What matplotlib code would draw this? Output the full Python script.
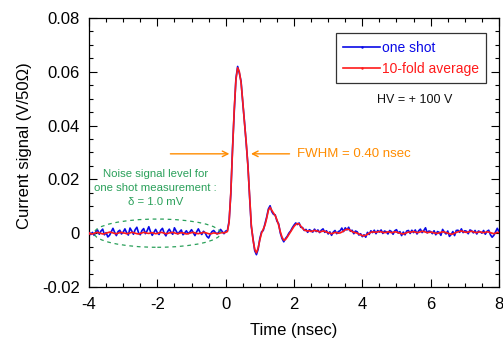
import numpy as np
import matplotlib
matplotlib.use("Agg")
import matplotlib.pyplot as plt
from matplotlib.patches import Ellipse
from matplotlib.ticker import MultipleLocator, FuncFormatter

plt.rcParams['font.family'] = ['Liberation Sans', 'DejaVu Sans']

# time grid (nsec)
time_ns = np.arange(-4.0, 8.0001, 0.05)

# 10-fold average signal (mV)
avg_mV = [
    0.0,-0.2,-0.3,-0.1,0.2,0.3,0.1,-0.1,-0.3,-0.2,0.0,0.2,0.4,0.3,0.1,-0.1,-0.2,0.0,0.2,0.3,0.1,
    0.0,-0.2,-0.1,0.1,0.3,0.2,0.0,-0.2,-0.3,-0.1,0.1,0.3,0.2,0.0,-0.1,0.1,0.2,0.0,-0.2,-0.1,
    0.1,0.3,0.2,0.0,-0.2,-0.1,0.1,0.2,0.3,0.1,-0.1,-0.2,0.0,0.2,0.1,-0.1,-0.3,-0.2,0.0,0.2,
    0.3,0.1,-0.1,-0.2,0.0,0.1,0.3,0.2,0.0,-0.2,-0.3,-0.1,0.1,0.0,-0.2,-0.1,0.1,0.2,0.1,0.3,
    0.6,4,15,31,46,57,61.5,60,56,49, 41,34,25,14,3,-2.5,-6,-7.3,-5.5,-2.5,
    0,1.5,3,5.5,8.5,9.6,8.5,7.5,6.5,5, 3,0.5,-1.5,-2.6,-2.4,-1.5,-0.5,0.5,1.5,2.5,
    3.2,3.6,3.4,2.6,1.8,1.2,0.9,0.8,0.9,0.6,
    0.8,1.0,0.9,0.7,0.5,0.6,0.8,0.7,0.4,0.2,
    0.0,-0.2,0.0,0.3,0.2,0.0,0.1,0.4,0.8,1.2,
    1.5,1.4,1.0,0.6,0.3,0.2,0.0,-0.3,-0.6,-0.9,
    -1.0,-0.8,-0.4,0.0,0.3,0.5,0.4,0.3,0.5,0.6,
    0.5,0.3,0.2,0.3,0.5,0.4,0.2,0.3,0.5,0.4,
    0.2,0.0,-0.2,-0.3,-0.1,0.2,0.4,0.3,0.5,0.6,
    0.4,0.2,0.3,0.5,0.7,0.6,0.4,0.2,0.3,0.4,
    0.3,0.1,0.0,-0.1,0.1,0.3,0.5,0.4,0.2,0.0,
    -0.2,-0.4,-0.3,0.0,0.3,0.5,0.7,0.8,0.6,0.4,
    0.3,0.4,0.6,0.7,0.5,0.3,0.2,0.4,0.5,0.3,
    0.2,0.3,0.5,0.4,0.2,0.0,-0.2,0.0,0.3,0.2,
]

# one shot signal (mV)
shot_mV = [
    0.2,-0.5,0.3,-0.8,0.6,1.2,-0.4,0.8,1.5,-0.6,0.2,-1.4,-0.8,0.5,1.8,0.3,-0.9,0.6,1.1,-0.3,0.4,
    1.6,0.2,-0.7,1.9,0.8,-0.4,1.3,2.2,0.1,-0.6,1.0,1.7,-0.2,0.9,2.4,0.5,-0.8,0.3,1.4,0.2,
    -0.5,1.1,1.8,0.0,-1.0,0.6,1.5,0.3,-0.4,2.0,0.8,-0.3,0.5,1.2,-0.6,0.1,0.9,-0.2,0.4,1.3,
    0.2,-0.9,0.5,1.6,0.3,-0.5,0.7,0.1,-1.2,-1.8,-0.4,0.6,1.0,0.2,-0.3,0.4,1.4,0.6,-0.2,0.8,
    0.9,4.5,14.5,31.5,45,57.5,62,59.5,56.5,48.5, 41.5,33.5,25.5,13.5,2.5,-2,-6.5,-8,-6,-2,
    0.5,1,3.5,6,9,10.2,8,7,6.8,4.5, 3.5,0,-2,-3.2,-2,-1.2,0,0.8,2,3,
    3.8,3.2,3.8,2.2,2.1,1.0,1.4,0.3,1.3,0.9,
    0.4,1.5,0.6,1.2,0.2,1.1,1.6,0.3,0.9,-0.3,
    0.5,-0.8,0.4,1.0,-0.2,0.6,0.9,1.9,0.6,2.0,
    1.2,2.2,0.7,1.1,-0.2,0.8,0.5,-0.7,-0.2,-1.3,
    -0.6,-1.5,0.3,-0.5,0.9,0.2,1.1,-0.2,1.0,0.4,
    1.2,-0.1,0.8,0.5,-0.3,1.0,0.6,-0.4,0.9,1.3,
    0.0,0.6,-0.9,0.4,-0.6,0.8,1.0,-0.1,1.1,0.2,
    1.2,-0.3,0.9,1.5,0.2,1.0,2.0,0.1,0.8,0.6,
    -0.2,0.9,-0.6,0.6,0.3,-0.8,1.4,0.4,-0.3,0.8,
    -1.2,-0.5,0.6,-0.9,1.0,1.1,0.3,1.6,0.2,0.9,
    0.7,-0.2,1.2,0.9,0.1,1.0,-0.3,0.8,0.5,0.0,
    1.0,-0.4,0.7,1.1,-0.6,-1.5,-0.8,0.5,1.8,0.6,
]

avg_V = np.array(avg_mV) / 1000.0
shot_V = np.array(shot_mV) / 1000.0

BLUE = '#0a0ae6'
RED = '#ff1a1a'

fig = plt.figure(figsize=(5.03, 3.40), dpi=100)
ax = fig.add_axes([0.177, 0.156, 0.815, 0.791])

ax.plot(time_ns, shot_V, color=BLUE, lw=1.2, label='one shot', zorder=3,
        marker='.', markersize=1.5, markevery=(0, 1000))
ax.plot(time_ns, avg_V, color=RED, lw=1.2, label='10-fold average', zorder=4,
        marker='.', markersize=1.5, markevery=(0, 1000))

ax.set_xlim(-4, 8)
ax.set_ylim(-0.02, 0.08)
ax.xaxis.set_major_locator(MultipleLocator(2))
ax.xaxis.set_minor_locator(MultipleLocator(0.5))
ax.yaxis.set_major_locator(MultipleLocator(0.02))
ax.yaxis.set_minor_locator(MultipleLocator(0.005))
ax.xaxis.set_major_formatter(FuncFormatter(lambda v, p: f"{v:g}"))
ax.yaxis.set_major_formatter(FuncFormatter(lambda v, p: "0" if abs(v) < 1e-9 else f"{v:.2f}"))
ax.tick_params(which='both', direction='in', top=True, right=True, labelsize=12)
ax.tick_params(which='major', length=6, width=0.8)
ax.tick_params(which='minor', length=3, width=0.8)
ax.tick_params(axis='x', which='major', pad=7.5)
ax.tick_params(axis='y', which='major', pad=6.5)
for s in ax.spines.values():
    s.set_linewidth(0.9)

ax.set_xlabel('Time (nsec)', fontsize=12, labelpad=8)
ax.set_ylabel('Current signal (V/50\u03a9)', fontsize=12)
ax.yaxis.set_label_coords(-0.139, 0.524)

leg = ax.legend(loc='upper left', bbox_to_anchor=(0.602, 0.944), borderaxespad=0,
                fontsize=10, frameon=True, fancybox=False, edgecolor='black',
                handlelength=2.6, handletextpad=0.15, labelspacing=0.5, borderpad=0.55)
leg.get_frame().set_linewidth(0.9)
for txt, col in zip(leg.get_texts(), [BLUE, RED]):
    txt.set_color(col)

ax.text(4.42, 0.0497, 'HV = + 100 V', fontsize=9, ha='left', va='center', color='#111111')

# FWHM arrows
orange = '#ff8c00'
ax.annotate('', xy=(0.19, 0.0295), xytext=(-1.7, 0.0295),
            arrowprops=dict(arrowstyle='->', color=orange, lw=1.0))
ax.annotate('', xy=(0.66, 0.0295), xytext=(1.95, 0.0295),
            arrowprops=dict(arrowstyle='->', color=orange, lw=1.0))
ax.text(2.1, 0.0295, 'FWHM = 0.40 nsec', color=orange, fontsize=9.5, ha='left', va='center')

# Noise ellipse and text
green = '#2aa05a'
ax.add_patch(Ellipse((-2.0, 0.0), 3.7, 0.0105, fill=False, ls=(0, (3, 3)),
                     edgecolor=green, lw=0.9, zorder=5))
ax.text(-2.05, 0.0167, 'Noise signal level for\none shot measurement :\n\u03b4 = 1.0 mV',
        color=green, fontsize=8.2, ha='center', va='center', linespacing=1.5)

fig.savefig('out.png', dpi=100)
